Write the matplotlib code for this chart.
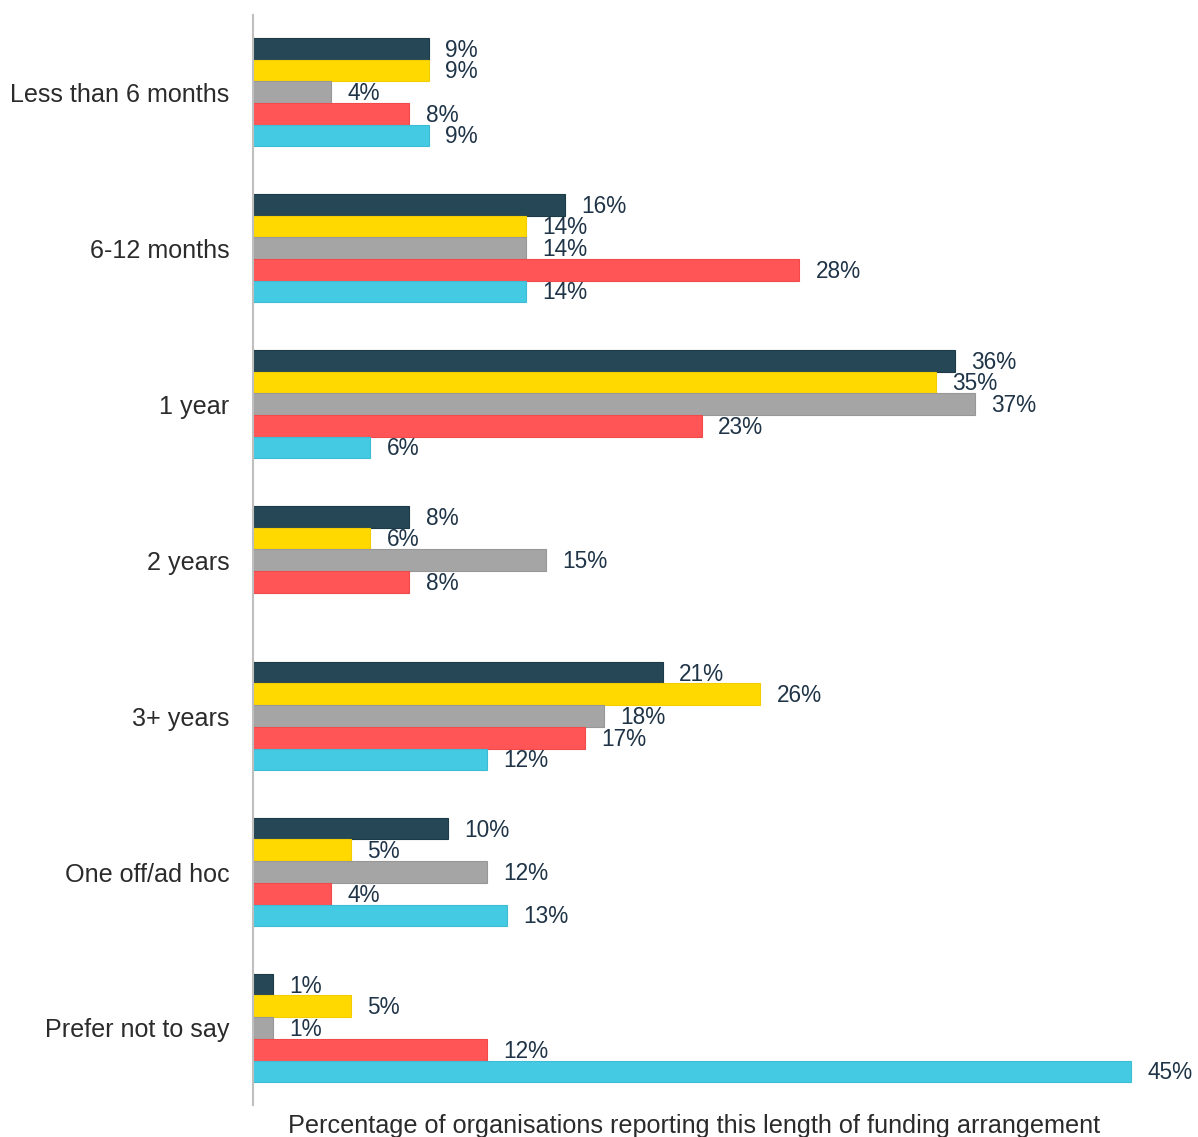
import numpy as np
import matplotlib
matplotlib.use("Agg")
import matplotlib.pyplot as plt

# ---------------- data ----------------
categories = ["Less than 6 months", "6-12 months", "1 year", "2 years",
              "3+ years", "One off/ad hoc", "Prefer not to say"]

series_dark = [9, 16, 36, 8, 21, 10, 1]
series_yellow = [9, 14, 35, 6, 26, 5, 5]
series_grey = [4, 14, 37, 15, 18, 12, 1]
series_red = [8, 28, 23, 8, 17, 4, 12]
series_cyan = [9, 14, 6, np.nan, 12, 13, 45]   # no value for 2 years

series = [series_dark, series_yellow, series_grey, series_red, series_cyan]
colours = ["#264756", "#FFD900", "#A5A5A5", "#FF5556", "#44CBE3"]
edges = ["#1d3a47", "#F2CE00", "#979797", "#F04A4B", "#3DBBD3"]

x_label = "Percentage of organisations reporting this length of funding arrangement"

# ---------------- figure ----------------
plt.rcParams['font.family'] = ['Liberation Sans', 'DejaVu Sans']

fig = plt.figure(figsize=(11.98, 11.37), dpi=100)
ax = fig.add_axes([0.2112, 0.0281, 0.7813, 0.9587])

bar_h = 0.139
y = np.arange(len(categories))

for i, (vals, col, ec) in enumerate(zip(series, colours, edges)):
    pos = y + (i - 2) * bar_h
    ax.barh(pos, vals, height=bar_h, color=col, edgecolor=ec, linewidth=0.8)
    for p, v in zip(pos, vals):
        if np.isnan(v):
            continue
        ax.text(v + 0.85, p + 0.01, f"{v:.0f}%", va="center", ha="left",
                fontsize=16.3, color="#1f3447")

ax.set_yticks(y)
ax.set_yticklabels(categories, fontsize=18.1, color="#2b2b2b")
ax.tick_params(axis="y", length=0, pad=17)
ax.set_xticks([])
ax.set_xlim(0, 48)
ax.set_ylim(6.494, -0.494)

for side in ["top", "right", "bottom"]:
    ax.spines[side].set_visible(False)
ax.spines["left"].set_color("#bfbfbf")
ax.spines["left"].set_linewidth(1.5)

fig.text(0.579, 0.0095, x_label, ha="center", va="center",
         fontsize=18.2, color="#2b2b2b")

fig.savefig("out.png", dpi=100)
